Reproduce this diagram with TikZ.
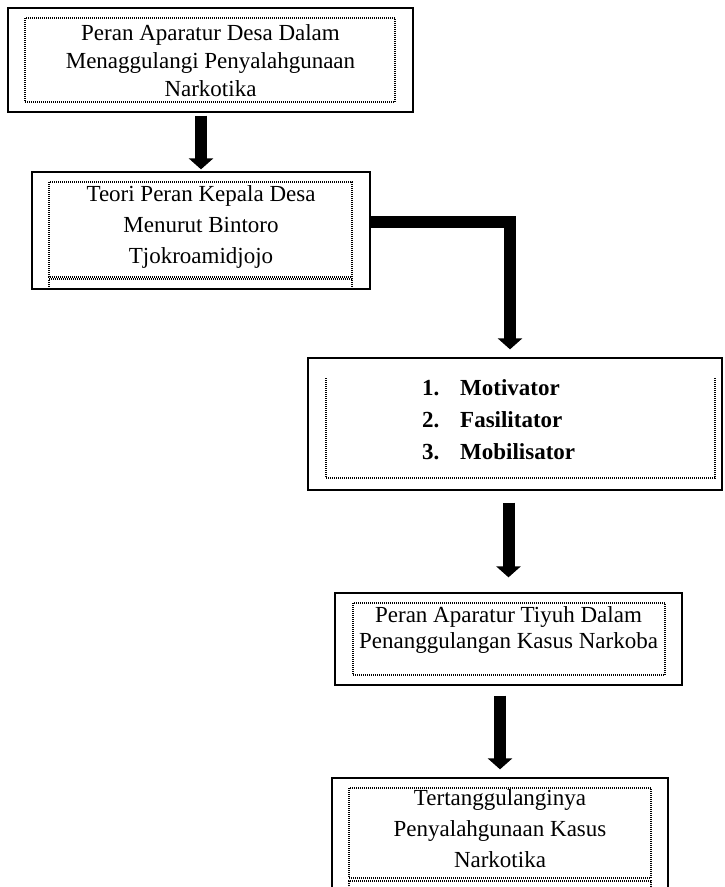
\documentclass[tikz,border=0pt]{standalone}
\usepackage{fontspec}
\setmainfont{Liberation Serif}
\usetikzlibrary{arrows.meta}

\begin{document}
\begin{tikzpicture}[
  x=1pt, y=-1pt,
  box/.style={draw, rectangle, line width=1.3pt, inner sep=0pt},
  inner/.style={draw, line width=1.2pt, dash pattern=on 1pt off 1pt},
  txt/.style={align=center, inner sep=0pt, font=\fontsize{23}{#1}\selectfont},
  txt/.default=28,
  fat/.style={line width=12pt, -{Triangle[width=24pt,length=11pt]}}
]
\useasboundingbox (0,0) rectangle (725,887);

% Top box
\node[box, minimum width=405pt, minimum height=104pt] (aparatur) at (210.5,60) {};
\node[txt] (aparaturtxt) at (210.5,61) {Peran Aparatur Desa Dalam\\
  Menaggulangi Penyalahgunaan\\ Narkotika};
\draw[inner] (25,18) rectangle (395,102);

% Theory box
\node[box, minimum width=338pt, minimum height=117pt] (teori) at (201,230.5) {};
\node[txt=31] (teoritxt) at (201,227) {Teori Peran Kepala Desa\\
  Menurut Bintoro\\ Tjokroamidjojo};
\draw[inner] (49,182) rectangle (352,277);
\draw[inner] (49,289) |- (352,279) -- (352,289);

% Roles box
\node[box, minimum width=414pt, minimum height=132pt] (fungsi) at (515,424) {};
\node[align=left, inner sep=0pt, anchor=west,
  font=\fontsize{23}{32}\selectfont\bfseries] (fungsitxt) at (422,420) {%
  \makebox[38pt][l]{1.}Motivator\\
  \makebox[38pt][l]{2.}Fasilitator\\
  \makebox[38pt][l]{3.}Mobilisator};
\draw[inner] (326,378) |- (715,478) -- (715,378);

% Tiyuh box
\node[box, minimum width=347pt, minimum height=92pt] (tiyuh) at (508.5,639) {};
\node[txt=26] (tiyuhtxt) at (508.5,630) {Peran Aparatur Tiyuh Dalam\\
  Penanggulangan Kasus Narkoba};
\draw[inner] (353,603) rectangle (665,675);

% Result box
\node[box, minimum width=336pt, minimum height=126pt] (hasil) at (500,841) {};
\node[txt=31] (hasiltxt) at (500,829) {Tertanggulanginya\\
  Penyalahgunaan Kasus\\ Narkotika};
\draw[inner] (349,788) rectangle (651,878);
\draw[inner] (349,904) |- (651,881) -- (651,904);

% Arrows
\draw[fat, shorten <=3pt, shorten >=2pt] (teori.north |- aparatur.south) -- (teori.north);
\draw[fat, line join=miter, shorten >=8pt] ([shift={(0,-9)}]teori.east) -| ([xshift=-5pt]fungsi.north);
\draw[fat, shorten <=12pt, shorten >=15pt] (tiyuh.north |- fungsi.south) -- (tiyuh.north);
\draw[fat, shorten <=10pt, shorten >=8pt] (hasil.north |- tiyuh.south) -- (hasil.north);

\end{tikzpicture}
\end{document}
